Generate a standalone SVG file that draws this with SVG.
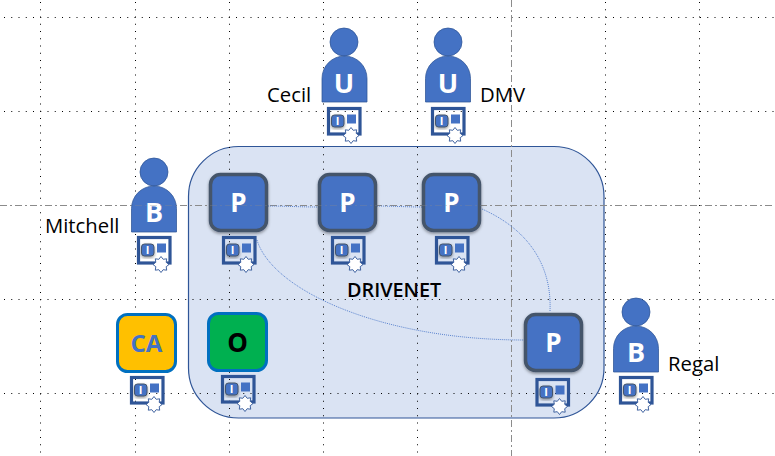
<svg xmlns="http://www.w3.org/2000/svg" xmlns:xlink="http://www.w3.org/1999/xlink" width="775" height="456" viewBox="0 0 775 456">
<style>
text{font-family:"Open Sans","Noto Sans","Liberation Sans",sans-serif}
.g{stroke:#000;stroke-width:1;stroke-dasharray:1 6.25;fill:none}
.gd{stroke:#8c8c8c;stroke-width:1;stroke-dasharray:7 3 2 3;fill:none}
.c{fill:none;stroke:#5b84cf;stroke-width:1;stroke-dasharray:1 1}
.pn{fill:#4472c4;stroke:#44546a;stroke-width:3.5;filter:url(#sh)}
.bd{fill:#4472c4;stroke:#2f5597;stroke-width:.75}
.l{font-size:20.3px;fill:#000}
.w{font-weight:700;fill:#fff;text-anchor:middle}
</style>
<defs>
<filter id="sh" x="-20%" y="-20%" width="140%" height="140%"><feDropShadow dx="0" dy="1.5" stdDeviation="1.5" flood-color="#000" flood-opacity=".4"/></filter>
<g id="badge">
<rect x="1.5" y="1.5" width="31.5" height="25.5" fill="none" stroke="#2f5597" stroke-width="3.2"/>
<rect x="4.5" y="8" width="12.5" height="12" rx="3" fill="#4472c4" stroke="#44546a" stroke-width="1" filter="url(#sh)"/>
<text x="10.7" y="18" font-size="11" font-weight="700" fill="#fff" text-anchor="middle">I</text>
<rect x="20" y="7.5" width="9" height="9" fill="#4472c4"/>
<polygon transform="translate(24 28.500)" points="0,-8 2.2,-5.2 5.7,-5.7 5.2,-2.2 8,0 5.2,2.2 5.7,5.7 2.2,5.2 0,8 -2.2,5.2 -5.7,5.7 -5.2,2.2 -8,0 -5.2,-2.2 -5.7,-5.7 -2.2,-5.2" fill="#fff" stroke="#2f5597" stroke-width=".9"/>
</g>
<path id="person" d="M-22.5,46V22.5A22.5,22.5 0 0 1 22.5,22.5V46Z"/>
</defs>
<rect width="775" height="456" fill="#fff"/>
<g id="container"><rect x="188.500" y="146.500" width="415.500" height="271.500" rx="50" fill="#dae3f3" stroke="#2f5597" stroke-width="1.2"/></g>
<g id="grid">
<path class="g" d="M40.500 2V456M135.500 2V456M229.500 2V456M323.500 2V456M417.500 2V456M605.500 2V456M699.500 2V456"/>
<path class="g" d="M4 17.500H775M4 111.500H775M4 299.500H775M4 393.500H775"/>
<path class="gd" d="M511.500 0V456M0 205.500H775"/>
</g>
<g id="connectors">
<path class="c" d="M268 206C285 206 300 207 318 207"/>
<path class="c" d="M377 206C392 206 407 207 422 207"/>
<path class="c" d="M482 209C525 228 552 262 550 311"/>
<path class="c" d="M257 240C272 290 380 340 524 340"/>
</g>
<g id="mitchell"><circle class="bd" cx="154" cy="172" r="14"/><use xlink:href="#person" class="bd" x="154" y="186"/><text class="w" x="154" y="222" font-size="27">B</text><text class="l" x="45" y="233">Mitchell</text><use xlink:href="#badge" x="137" y="236"/></g>
<g id="cecil"><circle class="bd" cx="344" cy="42" r="14"/><use xlink:href="#person" class="bd" x="344.500" y="56"/><text class="w" x="344" y="93" font-size="27">U</text><text class="l" x="267" y="102">Cecil</text><use xlink:href="#badge" x="327" y="107"/></g>
<g id="dmv"><circle class="bd" cx="448" cy="42" r="14"/><use xlink:href="#person" class="bd" x="448" y="56"/><text class="w" x="448" y="93" font-size="27">U</text><text class="l" x="480" y="102">DMV</text><use xlink:href="#badge" x="431" y="107"/></g>
<g id="regal"><circle class="bd" cx="636" cy="312" r="14"/><use xlink:href="#person" class="bd" x="636" y="326"/><text class="w" x="636" y="362" font-size="27">B</text><text class="l" x="668" y="371">Regal</text><use xlink:href="#badge" x="619" y="376"/></g>
<g id="p1"><rect class="pn" x="210.500" y="174.500" width="56" height="56" rx="10"/><text class="w" x="238.500" y="212" font-size="26">P</text><use xlink:href="#badge" x="222" y="236"/></g>
<g id="p2"><rect class="pn" x="319.500" y="174.500" width="56" height="56" rx="10"/><text class="w" x="347.500" y="212" font-size="26">P</text><use xlink:href="#badge" x="331" y="236"/></g>
<g id="p3"><rect class="pn" x="423.500" y="174.500" width="56" height="56" rx="10"/><text class="w" x="451.500" y="212" font-size="26">P</text><use xlink:href="#badge" x="435" y="236"/></g>
<g id="p4"><rect class="pn" x="525.500" y="314.500" width="56" height="56" rx="10"/><text class="w" x="553.500" y="352" font-size="26">P</text><use xlink:href="#badge" x="535.500" y="378"/></g>
<g id="ca"><rect x="117.500" y="314.500" width="58" height="57" rx="10" fill="#ffc000" stroke="#0070c0" stroke-width="3"/><text x="146.500" y="352" font-size="24" font-weight="700" fill="#4472c4" text-anchor="middle">CA</text><use xlink:href="#badge" x="130" y="376"/></g>
<g id="o"><rect x="208.500" y="313.500" width="58" height="57" rx="10" fill="#00b050" stroke="#0070c0" stroke-width="3"/><text x="237.500" y="352" font-size="26" font-weight="700" fill="#000" text-anchor="middle">O</text><use xlink:href="#badge" x="221" y="375"/></g>
<text id="drivenet" x="347" y="296.500" font-size="19.800" font-weight="600" fill="#000">DRIVENET</text>
<path id="grid-over" d="M0 205.500H775" fill="none" stroke="#8c8c8c" stroke-width="1" stroke-dasharray="7 3 2 3" opacity=".3"/>
</svg>
